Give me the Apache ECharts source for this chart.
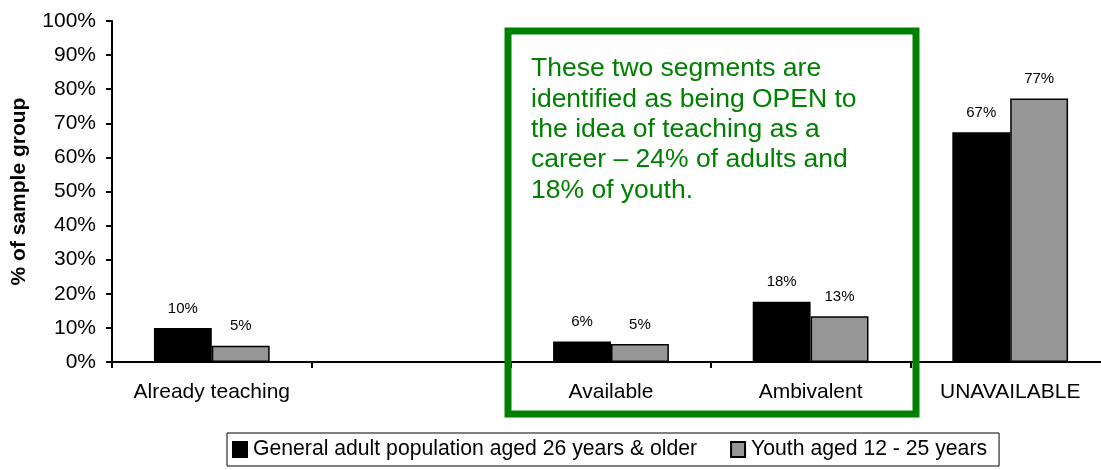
<!DOCTYPE html>
<html>
<head>
<meta charset="utf-8">
<script src="https://cdn.jsdelivr.net/npm/echarts@6/dist/echarts.min.js"></script>
<style>html,body{margin:0;padding:0;background:#fff;}#c{width:1101px;height:470px;}</style>
</head>
<body>
<div id="c"></div>
<script>
const categories = ['Already teaching', '', 'Available', 'Ambivalent', 'UNAVAILABLE'];
const seriesNames = ['General adult population aged 26 years & older', 'Youth aged 12 - 25 years'];
const adultValues = [10, null, 6, 17.7, 67.4];
const youthValues = [4.8, null, 5.3, 13.4, 77.3];
const adultLabels = ['10%', '', '6%', '18%', '67%'];
const youthLabels = ['5%', '', '5%', '13%', '77%'];
const yTicks = [0, 10, 20, 30, 40, 50, 60, 70, 80, 90, 100];
const noteText = 'These two segments are\nidentified as being OPEN to\nthe idea of teaching as a\ncareer \u2013 24% of adults and\n18% of youth.';

const FONT = '"Liberation Sans", Arial, Helvetica, sans-serif';
const chart = echarts.init(document.getElementById('c'));
chart.setOption({
  animation: false,
  textStyle: { fontFamily: FONT, color: '#000' },
  grid: { left: 112, width: 998, top: 21, bottom: 108, containLabel: false, outerBoundsMode: 'none' },
  legend: {
    left: 227, bottom: 4,
    orient: 'horizontal',
    borderColor: '#000', borderWidth: 1,
    padding: [6, 12, 6, 5],
    itemGap: 33, itemWidth: 14, itemHeight: 15,
    icon: 'rect',
    textStyle: { fontFamily: FONT, fontSize: 21.2, color: '#000', padding: [0, 0, 0, 1] },
    data: seriesNames
  },
  xAxis: {
    type: 'category',
    data: categories,
    boundaryGap: true,
    axisLine: { lineStyle: { color: '#000', width: 2 } },
    axisTick: { show: true, length: 6, lineStyle: { color: '#000', width: 2 } },
    axisLabel: { interval: 0, fontSize: 21, color: '#000', margin: 20, fontFamily: FONT }
  },
  yAxis: {
    type: 'value',
    min: yTicks[0], max: yTicks[yTicks.length - 1], interval: 10,
    name: '% of sample group',
    nameLocation: 'middle',
    nameGap: 82,
    nameMoveOverlap: false,
    nameTextStyle: { fontSize: 21, fontWeight: 'bold', color: '#000', fontFamily: FONT },
    axisLine: { show: true, lineStyle: { color: '#000', width: 2 } },
    axisTick: { show: true, length: 6, lineStyle: { color: '#000', width: 2 } },
    axisLabel: { fontSize: 21, color: '#000', margin: 16, formatter: '{value}%', fontFamily: FONT },
    splitLine: { show: false }
  },
  series: [
    {
      name: seriesNames[0], type: 'bar', data: adultValues,
      barGap: '0%', barCategoryGap: '42%',
      itemStyle: { color: '#000000', borderColor: '#000', borderWidth: 1.5 },
      label: { show: true, position: 'top', distance: 12, fontSize: 15, color: '#000', fontFamily: FONT,
        formatter: p => adultLabels[p.dataIndex] }
    },
    {
      name: seriesNames[1], type: 'bar', data: youthValues,
      barGap: '0%', barCategoryGap: '42%',
      itemStyle: { color: '#969696', borderColor: '#000', borderWidth: 1.5 },
      label: { show: true, position: 'top', distance: 12, fontSize: 15, color: '#000', fontFamily: FONT,
        formatter: p => youthLabels[p.dataIndex] }
    }
  ],
  graphic: [
    {
      type: 'rect', z: 100,
      shape: { x: 508, y: 31, width: 408, height: 383 },
      style: { fill: 'none', stroke: '#008000', lineWidth: 7 }
    },
    {
      type: 'text', z: 101, x: 531, y: 54,
      style: { text: noteText, fill: '#008000', font: '26.5px ' + FONT, lineHeight: 30.3 }
    }
  ]
});
</script>
</body>
</html>
